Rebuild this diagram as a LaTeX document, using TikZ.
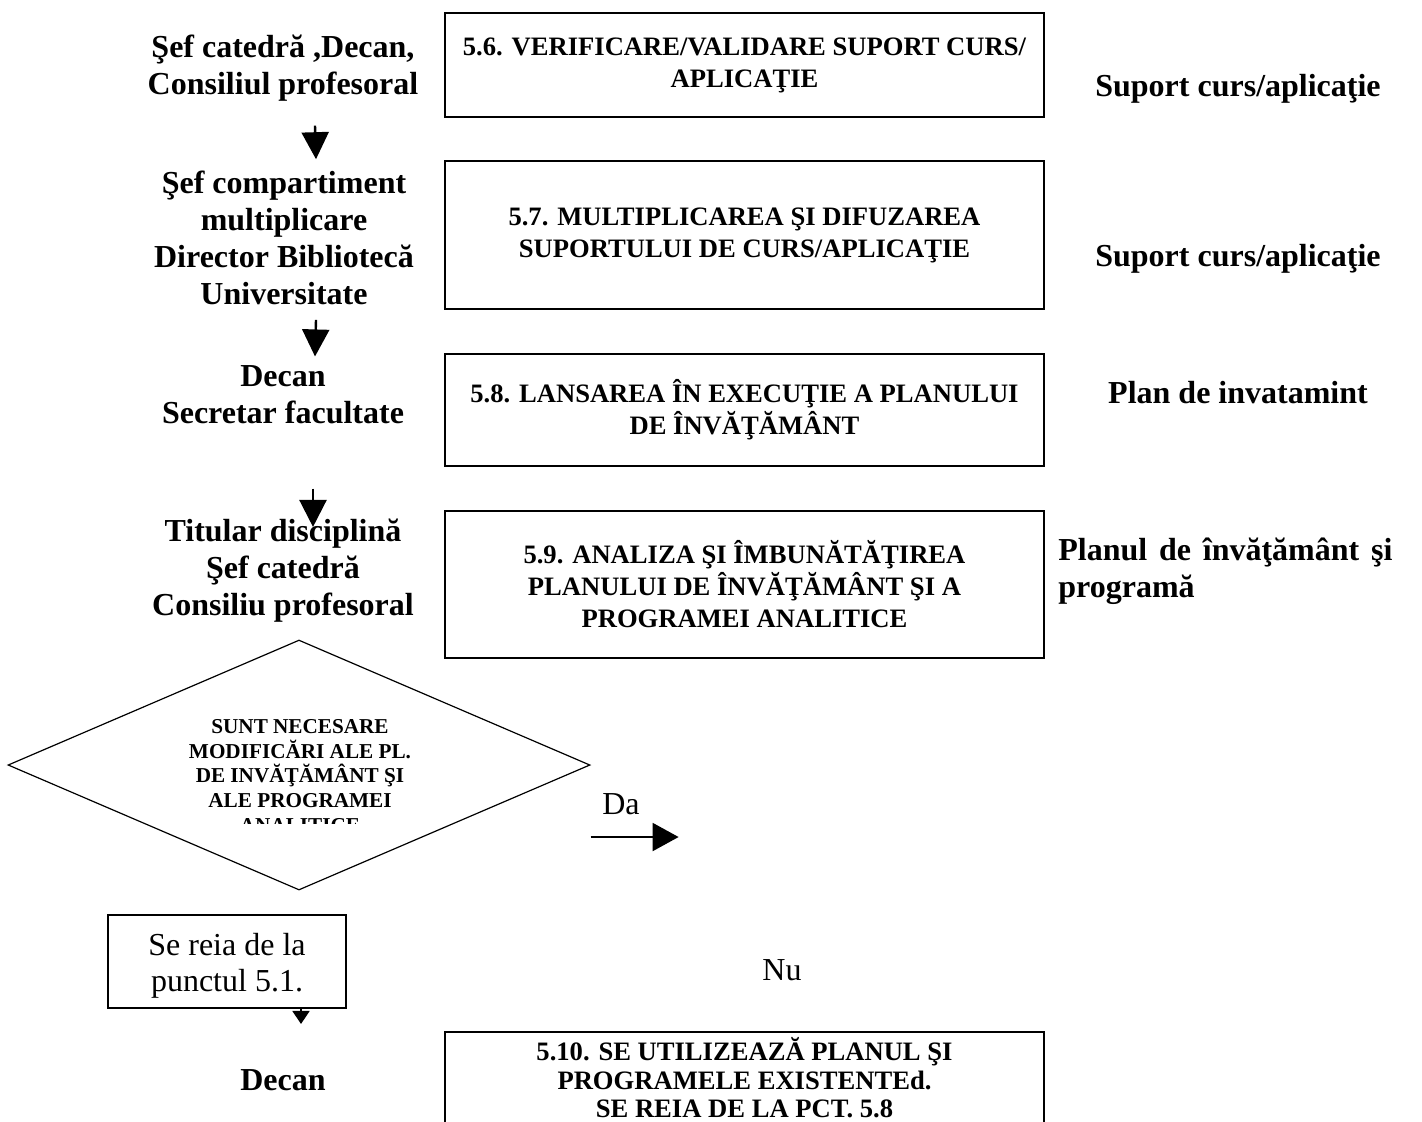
\documentclass[tikz,border=0pt]{standalone}
\usepackage{fontspec}
\setmainfont{Liberation Serif}
\usetikzlibrary{arrows.meta,shapes.geometric,calc,positioning}

\begin{document}
\begin{tikzpicture}[x=0.5pt,y=-0.5pt,
  who/.style={font=\fontsize{16}{18.5}\selectfont\bfseries,align=center,inner sep=0pt},
  docu/.style={font=\fontsize{16}{18.5}\selectfont\bfseries,inner sep=0pt},
  stepbox/.style={draw,line width=1pt,minimum width=299.5pt,inner sep=0pt,align=center,font=\fontsize{13.3}{16}\selectfont\bfseries},
  note/.style={font=\fontsize{16}{18}\selectfont,inner sep=0pt,align=center},
  flow/.style={line width=1.2pt,-{Triangle[length=13.5pt,width=13.5pt]}}]
  \useasboundingbox (0,0) rectangle (1422,1121);
  \clip (0,0) rectangle (1422,1121);
  \node[who] (who56) at (283,68) {Şef catedră ,Decan,\\Consiliul profesoral};
  \node[who] (who57) at (284,237.5) {Şef compartiment\\multiplicare\\Director Bibliotecă\\Universitate};
  \node[who] (who58) at (283,395) {Decan\\Secretar facultate};
  \node[who] (who59) at (283,571) {Titular disciplină\\Şef catedră\\Consiliu profesoral};
  \node[who] (who510) at (283,1080) {Decan};
  \node[stepbox,minimum height=52pt] (s56) at (744.5,65) {5.6. VERIFICARE/VALIDARE SUPORT CURS/\\APLICAŢIE};
  \node[stepbox,minimum height=74pt] (s57) at (744.5,235) {5.7. MULTIPLICAREA ŞI DIFUZAREA\\SUPORTULUI DE CURS/APLICAŢIE};
  \node[stepbox,minimum height=56pt] (s58) at (744.5,410) {5.8. LANSAREA ÎN EXECUŢIE A PLANULUI\\DE ÎNVĂŢĂMÂNT};
  \node[stepbox,minimum height=73.5pt] (s59) at (744.5,584.5) {5.9. ANALIZA ŞI ÎMBUNĂTĂŢIREA\\PLANULUI DE ÎNVĂŢĂMÂNT ŞI A\\PROGRAMEI ANALITICE};
  \node[stepbox,minimum height=46pt,font=\fontsize{13.3}{14.3}\selectfont\bfseries] (s510) at (744.5,1078) {5.10. SE UTILIZEAZĂ PLANUL ŞI\\PROGRAMELE EXISTENTEd.\\SE REIA DE LA PCT. 5.8};
  \node[docu] (doc56) at (1238,89) {Suport curs/aplicaţie};
  \node[docu] (doc57) at (1238,259) {Suport curs/aplicaţie};
  \node[docu] (doc58) at (1238,393) {Plan de invatamint};
  \node[docu,text width=167pt,align=justify,anchor=north west] (doc59) at (1058,538) {Planul de învăţământ şi\linebreak programă};
  \node[draw,diamond,line width=0.6pt,minimum width=291pt,minimum height=125pt,inner sep=0pt] (dec) at (299,765) {};
  \begin{scope}
    \clip (0,600) rectangle (600,823);
    \node[font=\fontsize{10.6}{12.3}\selectfont\bfseries,align=center,inner sep=0pt] (ask) at (300,776) {SUNT NECESARE\\MODIFICĂRI ALE PL.\\DE INVĂŢĂMÂNT ŞI\\ALE PROGRAMEI\\ANALITICE};
  \end{scope}
  \node[note] (da) at (621,804) {Da};
  \node[note] (nu) at (782,970) {Nu};
  \node[draw,line width=1pt,note,minimum width=119pt,minimum height=46.5pt] (reia) at (227,961.5) {\rule{0pt}{15pt}Se reia de la\\punctul 5.1.};
  \draw[flow] ([xshift=16pt,yshift=-12pt]who56.south) -- ([xshift=16pt,yshift=5.5pt]who57.north);
  \draw[flow] ([xshift=16pt,yshift=-7.5pt]who57.south) -- ([xshift=16pt,yshift=4.5pt]who58.north);
  \draw[flow] ([xshift=15pt,yshift=-32pt]who58.south) -- ([xshift=15pt,yshift=-4pt]who59.north);
  \draw[line width=1pt,-{Triangle[length=13pt,width=14pt]}] ([yshift=-36pt]dec.east) -- ++(88,0);
  \draw[line width=0.8pt,-{Triangle[length=6.5pt,width=8.5pt]}] ([xshift=37pt]reia.south) -- ([xshift=9pt,yshift=22.5pt]who510.north);
\end{tikzpicture}
\end{document}
